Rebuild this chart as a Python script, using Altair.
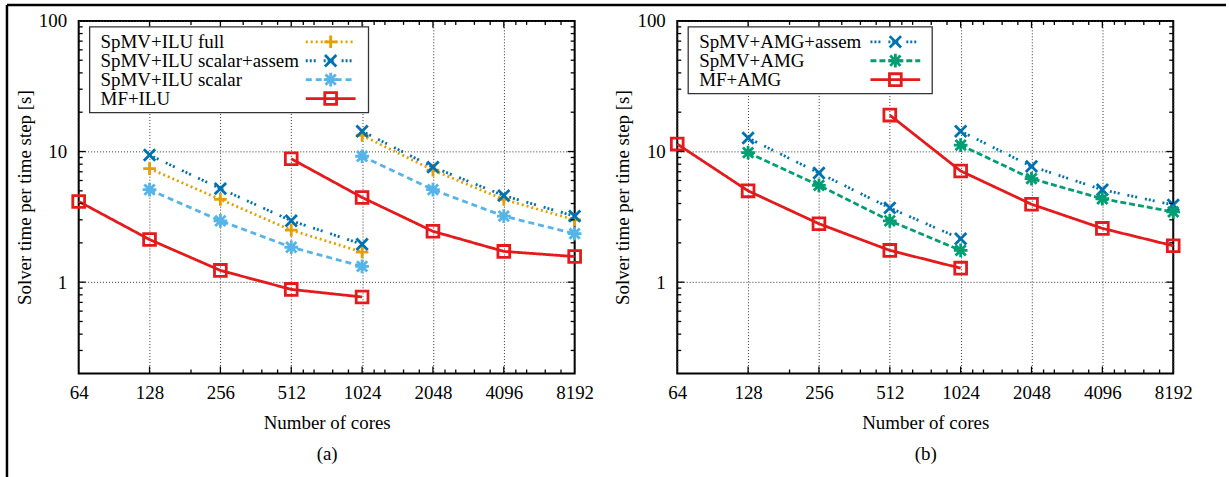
import altair as alt
import pandas as pd

FONT = "Liberation Serif"
FS = 19

# ---------------- data ----------------
CORES_TICKS = [64, 128, 256, 512, 1024, 2048, 4096, 8192]
MINOR_X = [192, 320, 384, 448, 576, 640, 768, 896, 1152, 1280, 1536, 1792,
           2304, 2560, 3072, 3584, 4608, 5120, 6144, 7168]
MAJOR_Y = [1, 10, 100]
MINOR_Y = [0.3, 0.4, 0.5, 0.6, 0.7, 0.8, 0.9, 2, 3, 4, 5, 6, 7, 8, 9,
           20, 30, 40, 50, 60, 70, 80, 90]

cores_4a = [128, 256, 512, 1024]
cores_4b = [1024, 2048, 4096, 8192]
cores_5a = [64, 128, 256, 512, 1024]
cores_5b = [512, 1024, 2048, 4096, 8192]

# panel (a)
ilu_full_1 = [7.4, 4.3, 2.5, 1.7]
ilu_full_2 = [13.3, 7.2, 4.3, 3.0]
ilu_assem_1 = [9.4, 5.2, 2.95, 1.95]
ilu_assem_2 = [14.3, 7.6, 4.6, 3.2]
ilu_scalar_1 = [5.1, 2.95, 1.85, 1.32]
ilu_scalar_2 = [9.2, 5.1, 3.2, 2.35]
mf_ilu_1 = [4.15, 2.12, 1.23, 0.88, 0.77]
mf_ilu_2 = [8.8, 4.45, 2.45, 1.72, 1.57]

# panel (b)
amg_assem_1 = [12.7, 6.85, 3.7, 2.15]
amg_assem_2 = [14.3, 7.7, 5.1, 3.9]
amg_1 = [9.8, 5.5, 2.95, 1.75]
amg_2 = [11.2, 6.2, 4.35, 3.45]
mf_amg_1 = [11.4, 5.0, 2.8, 1.75, 1.28]
mf_amg_2 = [19.0, 7.1, 3.95, 2.58, 1.9]

# ---------------- styles ----------------
ORANGE, DBLUE, LBLUE, RED, GREEN = "#E69F00", "#0072B2", "#56B4E9", "#E41A1C", "#009E73"
PLUS = "M-1,0L1,0M0,-1L0,1"
XMARK = "M-1,-1L1,1M-1,1L1,-1"
STAR = "M-1,0L1,0M0,-1L0,1M-0.75,-0.75L0.75,0.75M-0.75,0.75L0.75,-0.75"
LW = 2.8

W, H = 498, 354
XS = alt.Scale(type="log", base=2, domain=[64, 8192], nice=False)
YS = alt.Scale(type="log", domain=[0.2, 100], nice=False)


def X(**kw):
    return alt.X("x:Q", scale=XS, **kw)


def Y(**kw):
    return alt.Y("y:Q", scale=YS, **kw)


def series_df(c1, v1, c2, v2):
    return pd.DataFrame({
        "x": list(c1) + list(c2),
        "y": list(v1) + list(v2),
        "seg": [1] * len(c1) + [2] * len(c2),
    })


def tick_layers():
    layers = []
    for vals, length in ((CORES_TICKS[1:-1], 7), (MINOR_X, 4)):
        df = pd.DataFrame({"x": vals})
        for y0, y1 in ((H, H - length), (0, length)):
            layers.append(alt.Chart(df).mark_rule(color="black", strokeWidth=1.3).encode(
                x=X(), y=alt.value(y0), y2=alt.value(y1)))
    for vals, length in (([1, 10], 7), (MINOR_Y, 4)):
        df = pd.DataFrame({"y": vals})
        for x0, x1 in ((0, length), (W, W - length)):
            layers.append(alt.Chart(df).mark_rule(color="black", strokeWidth=1.3).encode(
                y=Y(), x=alt.value(x0), x2=alt.value(x1)))
    return layers


def make_panel(series, letter, box, text_x, line_x, frame=False):
    one = pd.DataFrame({"k": [0]})
    # axis-carrying layer (invisible points at the tick positions)
    axis_df = pd.DataFrame({"x": CORES_TICKS[:3], "y": MAJOR_Y})
    layers = [alt.Chart(axis_df).mark_point(opacity=0).encode(
        x=X(axis=alt.Axis(values=CORES_TICKS, format="d",
                          title=["Number of cores", f"({letter})"],
                          labelFlush=False, labelOverlap=False,
                          ticks=False, domain=False, grid=True,
                          gridColor="#333", gridDash=[1, 2], gridWidth=1,
                          labelFontSize=FS, titleFontSize=FS,
                          labelPadding=10, titlePadding=11, titleLineHeight=31,
                          titleFontWeight="normal")),
        y=Y(axis=alt.Axis(values=MAJOR_Y, format="d",
                          title="Solver time per time step [s]",
                          labelOverlap=False, ticks=False, domain=False, grid=True,
                          gridColor="#333", gridDash=[1, 2], gridWidth=1,
                          labelFontSize=FS, titleFontSize=FS,
                          labelPadding=12, titlePadding=4,
                          titleFontWeight="normal")),
    )]
    for s in series:
        df = series_df(*s["data"])
        layers.append(alt.Chart(df).mark_line(
            color=s["color"], strokeWidth=LW, strokeDash=s["dash"]).encode(
            x=X(), y=Y(), detail="seg:N"))
    for s in series:
        df = series_df(*s["data"])
        layers.append(alt.Chart(df).mark_point(
            shape=s["shape"], size=s["size"], filled=False, color=s["color"],
            strokeWidth=LW, opacity=1).encode(x=X(), y=Y()))
    layers += tick_layers()
    if frame:
        layers.append(alt.Chart(one).mark_rule(color="black", strokeWidth=2.5).encode(
            x=alt.value(-72), x2=alt.value(1229 - 77), y=alt.value(-16), y2=alt.value(-16)))
        layers.append(alt.Chart(one).mark_rule(color="black", strokeWidth=2.5).encode(
            x=alt.value(-72), x2=alt.value(-72), y=alt.value(-16), y2=alt.value(477 - 18)))
    # legend box
    bx0, bx1, by0, by1 = box
    layers.append(alt.Chart(one).mark_rect(fill="white", stroke="#333", strokeWidth=1.3).encode(
        x=alt.value(bx0), x2=alt.value(bx1), y=alt.value(by0), y2=alt.value(by1)))
    lx0, lx1 = line_x
    for i, s in enumerate(series):
        yy = by0 + 15 + 19 * i
        layers.append(alt.Chart(one).mark_text(
            align="left", baseline="middle", font=FONT, fontSize=FS, color="black").encode(
            x=alt.value(text_x), y=alt.value(yy), text=alt.value(s["label"])))
        layers.append(alt.Chart(one).mark_rule(
            color=s["color"], strokeWidth=LW, strokeDash=s["dash"]).encode(
            x=alt.value(lx0), x2=alt.value(lx1), y=alt.value(yy), y2=alt.value(yy)))
        layers.append(alt.Chart(one).mark_point(
            shape=s["shape"], size=s["size"], filled=False, color=s["color"],
            strokeWidth=LW, opacity=1).encode(
            x=alt.value((lx0 + lx1) / 2), y=alt.value(yy)))
    return alt.layer(*layers).properties(width=W, height=H)


series_a = [
    dict(label="SpMV+ILU full", color=ORANGE, dash=[2, 3], shape=PLUS, size=160,
         data=(cores_4a, ilu_full_1, cores_4b, ilu_full_2)),
    dict(label="SpMV+ILU scalar+assem", color=DBLUE, dash=[2, 2, 2, 2, 2, 8], shape=XMARK, size=130,
         data=(cores_4a, ilu_assem_1, cores_4b, ilu_assem_2)),
    dict(label="SpMV+ILU scalar", color=LBLUE, dash=[6, 4], shape=STAR, size=190,
         data=(cores_4a, ilu_scalar_1, cores_4b, ilu_scalar_2)),
    dict(label="MF+ILU", color=RED, dash=[1, 0], shape="square", size=140,
         data=(cores_5a, mf_ilu_1, cores_5b, mf_ilu_2)),
]
series_b = [
    dict(label="SpMV+AMG+assem", color=DBLUE, dash=[2, 2, 2, 2, 2, 8], shape=XMARK, size=130,
         data=(cores_4a, amg_assem_1, cores_4b, amg_assem_2)),
    dict(label="SpMV+AMG", color=GREEN, dash=[6, 3], shape=STAR, size=190,
         data=(cores_4a, amg_1, cores_4b, amg_2)),
    dict(label="MF+AMG", color=RED, dash=[1, 0], shape="square", size=140,
         data=(cores_5a, mf_amg_1, cores_5b, mf_amg_2)),
]

panel_a = make_panel(series_a, "a", (11, 291, 6, 92), 22, (228, 278), frame=True)
panel_b = make_panel(series_b, "b", (11, 256, 6, 73), 22, (194, 244))

chart = alt.hconcat(panel_a, panel_b, spacing=103, bounds="flush").properties(
    padding={"left": 4, "top": 1, "right": 0, "bottom": 0},
    background="white",
).configure(font=FONT).configure_view(
    stroke="black", strokeWidth=2
).configure_axis(
    labelFont=FONT, titleFont=FONT, labelColor="black", titleColor="black",
)

chart.save("out.html", embed_options={"renderer": "svg", "actions": False})
